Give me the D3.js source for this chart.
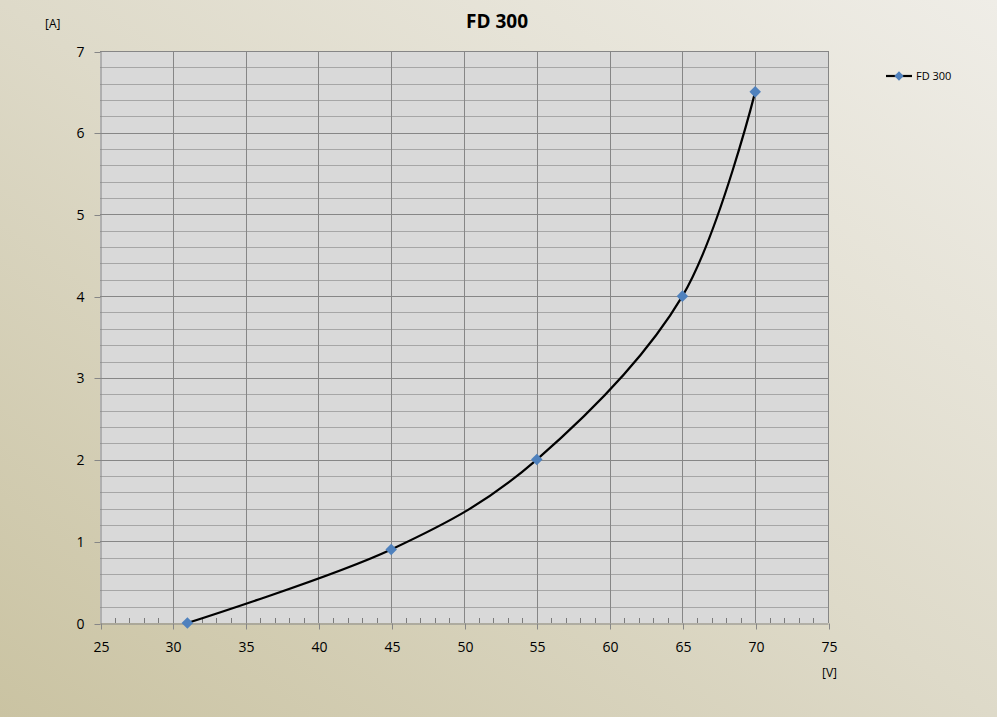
<!DOCTYPE html>
<html>
<head>
<meta charset="utf-8">
<script src="https://cdn.jsdelivr.net/npm/d3@7"></script>
<style>
  body { margin: 0; }
  svg { display: block; font-family: "Open Sans", "Noto Sans", sans-serif; }
  .tick text { font-size: 14px; fill: #000; font-family: "Open Sans", sans-serif; }
</style>
</head>
<body>
<svg width="997" height="717"></svg>
<script>
// **** Data ****
var volts = [31, 45, 55, 65, 70];
var amps = [0, 0.9, 2, 4, 6.5];
var xTicks = [25, 30, 35, 40, 45, 50, 55, 60, 65, 70, 75];
var yTicks = [0, 1, 2, 3, 4, 5, 6, 7];
var seriesName = "FD 300";

var points = volts.map((v, i) => ({ v: v, a: amps[i] }));

// **** Scales ****
var xScale = d3.scaleLinear().domain([25, 75]).range([100, 828]);
var yScale = d3.scaleLinear().domain([0, 7]).range([623, 51]);

var svg = d3.select('svg');

// background gradient
var defs = svg.append("defs");
var grad = defs.append("linearGradient")
    .attr("id", "bg")
    .attr("x1", "0%").attr("y1", "100%")
    .attr("x2", "100%").attr("y2", "0%");
grad.append("stop").attr("offset", "0%").attr("stop-color", "#cac3a2");
grad.append("stop").attr("offset", "50%").attr("stop-color", "#dedac9");
grad.append("stop").attr("offset", "100%").attr("stop-color", "#efede7");

svg.append("rect").attr("width", 997).attr("height", 717).attr("fill", "url(#bg)");

// plot area
svg.append("rect")
    .attr("x", xScale(25)).attr("y", yScale(7))
    .attr("width", xScale(75) - xScale(25))
    .attr("height", yScale(0) - yScale(7))
    .attr("fill", "#d9d9d9");

// minor horizontal gridlines every 0.2
var minorY = d3.range(0, 7.001, 0.2).filter(d => Math.abs(d - Math.round(d)) > 0.01);
svg.append("g").selectAll("line").data(minorY).enter().append("line")
    .attr("x1", xScale(25)).attr("x2", xScale(75))
    .attr("y1", d => Math.round(yScale(d)) + 0.5)
    .attr("y2", d => Math.round(yScale(d)) + 0.5)
    .attr("stroke", "#a6a6a6").attr("stroke-width", 1);

// major gridlines
svg.append("g").selectAll("line").data(yTicks.slice(1)).enter().append("line")
    .attr("x1", xScale(25)).attr("x2", xScale(75))
    .attr("y1", d => Math.round(yScale(d)) + 0.5)
    .attr("y2", d => Math.round(yScale(d)) + 0.5)
    .attr("stroke", "#868686");
svg.append("g").selectAll("line").data(xTicks.slice(1)).enter().append("line")
    .attr("y1", yScale(0)).attr("y2", yScale(7))
    .attr("x1", d => Math.round(xScale(d)) + 0.5)
    .attr("x2", d => Math.round(xScale(d)) + 0.5)
    .attr("stroke", "#868686");

// minor x ticks (inside, upward)
var minorX = d3.range(26, 75, 1).filter(d => d % 5 !== 0);
svg.append("g").selectAll("line").data(minorX).enter().append("line")
    .attr("x1", d => Math.round(xScale(d)) + 0.5)
    .attr("x2", d => Math.round(xScale(d)) + 0.5)
    .attr("y1", yScale(0)).attr("y2", yScale(0) - 5)
    .attr("stroke", "#7a7a7a");

// **** Axes ****
var xAxis = svg.append('g').attr('class', 'x axis')
    .attr('transform', 'translate(0,' + (Math.round(yScale(0)) + 0.5) + ')')
    .call(d3.axisBottom(xScale).tickValues(xTicks).tickFormat(d3.format("d"))
        .tickSize(6).tickPadding(13).tickSizeOuter(0));

var yAxis = svg.append('g').attr('class', 'y axis')
    .attr('transform', 'translate(' + (Math.round(xScale(25)) + 0.5) + ',0)')
    .call(d3.axisLeft(yScale).tickValues(yTicks).tickFormat(d3.format("d"))
        .tickSize(6).tickPadding(10).tickSizeOuter(0));

svg.selectAll(".axis path, .axis line").attr("stroke", "#868686");
svg.selectAll(".axis text").attr("font-family", null).attr("font-size", null);
svg.selectAll(".x.axis .tick").each(function() {
    var t = d3.select(this).attr("transform");
    var m = /translate\(([\d.]+)/.exec(t);
    d3.select(this).attr("transform", "translate(" + (Math.round(+m[1]) + 0.5) + ",0)");
});
svg.selectAll(".y.axis .tick").each(function() {
    var t = d3.select(this).attr("transform");
    var m = /translate\(0,([\d.]+)/.exec(t);
    d3.select(this).attr("transform", "translate(0," + (Math.round(+m[1]) + 0.5) + ")");
});

// **** Labels ****
svg.append("text")
    .attr("text-anchor", "middle")
    .attr("x", 497).attr("y", 28)
    .style("font-size", "19px").style("font-weight", "bold")
    .text(seriesName);

svg.append("text")
    .attr("x", 45).attr("y", 28)
    .style("font-size", "12px")
    .text("[A]");

svg.append("text")
    .attr("x", 822).attr("y", 677)
    .style("font-size", "12px")
    .text("[V]");

// **** Series ****
var line = d3.line()
    .x(d => xScale(d.v))
    .y(d => yScale(d.a))
    .curve(d3.curveCatmullRom.alpha(0));

svg.append("path")
    .datum(points)
    .attr("d", line)
    .attr("fill", "none")
    .attr("stroke", "#000")
    .attr("stroke-width", 2.2);

var diamond = d3.symbol().type(d3.symbolDiamond2).size(85);
svg.selectAll(".pt").data(points).enter().append("path")
    .attr("class", "pt")
    .attr("transform", d => `translate(${xScale(d.v)},${yScale(d.a)})`)
    .attr("d", diamond)
    .attr("fill", "#4f81bd");

// **** Legend ****
var legend = svg.append("g").attr("transform", "translate(886,76)");
legend.append("line").attr("x1", 0).attr("x2", 26).attr("y1", 0).attr("y2", 0)
    .attr("stroke", "#000").attr("stroke-width", 2.2);
legend.append("path").attr("transform", "translate(13,0)")
    .attr("d", d3.symbol().type(d3.symbolDiamond2).size(55)).attr("fill", "#4f81bd");
legend.append("text").attr("x", 30).attr("y", 4)
    .style("font-size", "11px").text(seriesName);
</script>
</body>
</html>
